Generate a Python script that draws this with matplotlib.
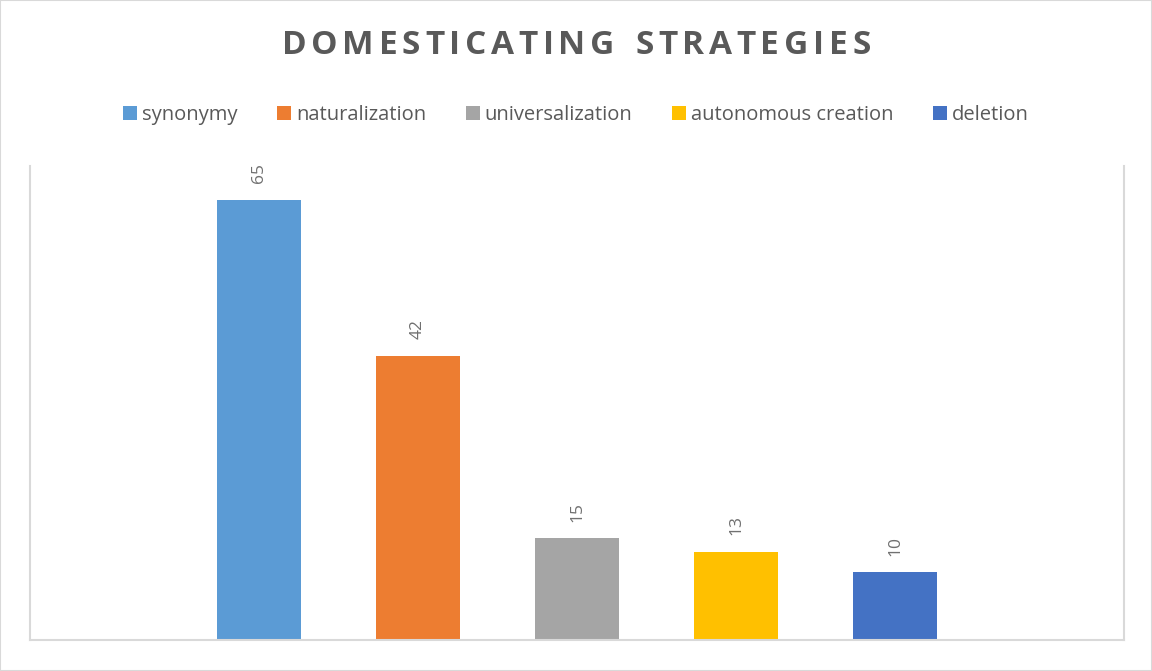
import matplotlib
matplotlib.use("Agg")
import matplotlib.pyplot as plt
from matplotlib.patches import Patch, Rectangle

categories = ["synonymy", "naturalization", "universalization", "autonomous creation", "deletion"]
values = [65, 42, 15, 13, 10]
colors = ["#5B9BD5", "#ED7D31", "#A5A5A5", "#FFC000", "#4472C4"]
title = "DOMESTICATING STRATEGIES"

W, H = 1152, 671
fig = plt.figure(figsize=(W/100, H/100), dpi=100)
fig.patches.append(Rectangle((0, 0), 1, 1, transform=fig.transFigure, fill=False,
                             edgecolor="#D9D9D9", linewidth=1.5))
ax = fig.add_axes([30/W, 1-640/H, (1124-30)/W, (640-166)/H])

x = list(range(len(categories)))
ax.bar(x, values, width=84/159, color=colors)
for xi, v in zip(x, values):
    ax.annotate(str(v), (xi, v), xytext=(0, 12), textcoords="offset points",
                rotation=90, ha="center", va="bottom", color="#707070", fontsize=12.5,
                family="Open Sans")

ax.set_xlim(-1.44, 5.44)
ax.set_ylim(0, 70)
ax.set_xticks([])
ax.set_yticks([])
for s in ["left", "right", "bottom"]:
    ax.spines[s].set_color("#D9D9D9")
    ax.spines[s].set_linewidth(1.5)
ax.spines["top"].set_visible(False)

# Letter-spaced title
renderer = fig.canvas.get_renderer()
spacing = 4.7
tprops = dict(fontsize=24, fontweight="bold", color="#595959", family="Open Sans")
widths = []
for ch in title:
    t = fig.text(0, 0, ch if ch != " " else "I", **tprops)
    w = t.get_window_extent(renderer).width
    t.remove()
    widths.append(w)
total = sum(widths) + spacing * (len(title) - 1)
xpos = W/2 - total/2
ycen = 1 - 46/H
for ch, w in zip(title, widths):
    if ch != " ":
        fig.text(xpos/W, ycen, ch, ha="left", va="center", **tprops)
    xpos += w + spacing

handles = [Patch(facecolor=c, edgecolor="none") for c in colors]
fig.legend(handles, categories, loc="center", bbox_to_anchor=(0.5, 1-115/H), ncol=5,
           frameon=False, prop={"family": "Open Sans", "size": 14.5},
           handlelength=0.7, handleheight=0.7, handletextpad=0.25, columnspacing=1.95,
           labelcolor="#595959")

fig.savefig("out.png", dpi=100, facecolor="white")
